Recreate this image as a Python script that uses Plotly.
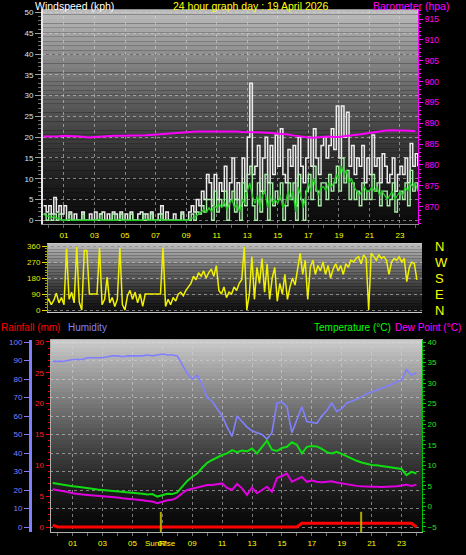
import plotly.graph_objects as go

# ---------------- sampling times (hours of the day) ----------------
t10 = [round(-1/3 + i/6, 4) for i in range(148)]   # 10-minute samples
t20 = [round(-1/3 + i/3, 4) for i in range(74)]    # 20-minute samples

hour_vals = [1, 3, 5, 7, 9, 11, 13, 15, 17, 19, 21, 23]
hour_text = ["01", "03", "05", "07", "09", "11", "13", "15", "17", "19", "21", "23"]

# ---------------- wind (kph), 10-minute ----------------
gust = [3.5, 2,
        3.5, 1.5, 5.5, 2, 3.5, 1.5,
        3.5, 0, 2, 0, 1.5, 0,
        0, 2, 0, 0, 1.5, 0,
        2, 0, 1.5, 2, 0, 1.5,
        0, 2, 1.5, 0, 2, 0,
        1.5, 0, 2, 0, 0, 1.5,
        2, 0, 1.5, 0, 2, 0,
        0, 1.5, 3.5, 0, 2, 0,
        0, 1.5, 0, 0, 2, 0,
        0, 2, 3.5, 2, 5, 3.5,
        7, 5, 11, 9, 3.5, 11,
        5, 9, 7, 13, 3.5, 9,
        15, 5, 9, 3.5, 15, 7,
        20, 33, 11, 13, 18, 7,
        15, 20, 9, 18, 11, 20.5,
        13, 22, 11, 9, 17, 13,
        18, 3.5, 20, 13, 9, 15,
        20, 13, 22, 15, 11, 18,
        20, 15, 18, 22, 17, 27.5,
        15, 27.5, 20, 26, 13, 18,
        11, 15, 13, 18, 9, 15,
        11, 20.5, 13, 15, 9, 16,
        13, 9, 11, 15, 7, 11,
        13, 11, 15, 9, 18.5, 13,
        16, 13]

avg_speed = [1.5, 0,
             1.5, 0, 1.5, 0, 1.5, 0,
             0, 0, 1.5, 0, 0, 0,
             0, 1.5, 0, 0, 0, 0,
             0, 0, 1.5, 0, 0, 0,
             0, 1.5, 0, 0, 1.5, 0,
             0, 0, 1.5, 0, 0, 0,
             0, 1.5, 0, 0, 1.5, 0,
             0, 0, 1.5, 0, 0, 0,
             0, 0, 0, 0, 1.5, 0,
             0, 0, 1.5, 0, 2, 1.5,
             3.5, 2, 5, 5, 0, 7,
             2, 5, 3.5, 7, 0, 5,
             7, 2, 5, 0, 9, 3.5,
             11, 13, 3.5, 0, 9, 2,
             7, 11, 0, 9, 3.5, 7,
             5, 9, 0, 3.5, 9, 5,
             9, 0, 11, 5, 0, 7,
             11, 5, 13, 7, 3.5, 9,
             9, 5, 11, 7, 9, 13,
             7, 15, 9, 12, 5, 9,
             5, 7, 3.5, 9, 5, 7,
             5, 11, 7, 9, 3.5, 7,
             7, 3.5, 5, 9, 2, 5,
             7, 5, 9, 3.5, 12, 7,
             9, 7]

avg_10min = [1.5, 1,
             1, 0.5, 1, 0.5, 0.5, 0,
             0, 0, 0.3, 0, 0, 0,
             0, 0, 0, 0, 0, 0,
             0, 0, 0.3, 0, 0, 0,
             0, 0, 0, 0, 0.3, 0,
             0, 0, 0, 0, 0, 0,
             0, 0, 0.3, 0, 0, 0,
             0, 0, 0.3, 0, 0, 0,
             0, 0, 0, 0, 0, 0,
             0, 0, 0.5, 0.5, 1, 1.5,
             2, 2.5, 2, 3, 2, 3.5,
             3, 4, 3, 4.5, 2.5, 4,
             5, 3, 4, 2, 5, 4,
             7, 9, 6, 4, 6, 3,
             6, 7, 3, 6, 4, 5,
             4, 6, 3, 4, 7, 5,
             7, 2, 8, 6, 3, 6,
             9, 7, 10, 8, 6, 8,
             8, 7, 9, 8, 9, 11,
             10, 13, 11, 12, 9, 10,
             8, 7, 6, 7, 8, 7,
             7, 8, 7, 8, 6, 7,
             6, 5, 6, 7, 5, 6,
             7, 6, 8, 7, 9, 8,
             9, 7]

# ---------------- wind direction (deg), 10-minute ----------------
wind_dir = [105, 40,
            60, 30, 55, 95, 40, 70,
            30, 345, 60, 100, 40, 355,
            45, 0, 335, 335, 90, 90,
            90, 90, 350, 30, 60, 185,
            40, 70, 20, 60, 350, 30,
            0, 80, 110, 60, 100, 40,
            90, 20, 90, 90, 90, 90,
            90, 90, 90, 350, 20, 60,
            30, 70, 50, 90, 100, 80,
            110, 130, 150, 190, 170, 210,
            190, 220, 180, 210, 230, 190,
            250, 110, 90, 130, 70, 100,
            90, 130, 110, 150, 170, 355,
            0, 90, 300, 60, 240, 150,
            290, 100, 260, 60, 180, 240,
            50, 150, 90, 200, 60, 130,
            180, 140, 230, 320, 200, 280,
            60, 240, 280, 200, 250, 220,
            270, 200, 250, 180, 230, 260,
            220, 250, 200, 260, 240, 280,
            270, 290, 300, 260, 310, 290,
            0, 320, 300, 280, 310, 290,
            300, 280, 200, 270, 290, 280,
            300, 270, 290, 160, 240, 270,
            260, 170]

# ---------------- 20-minute series ----------------
barometer = [886.8,
             886.8, 886.9, 886.9, 887.0, 887.0, 886.9, 886.8, 886.7, 886.6,
             886.7, 886.8, 886.9, 886.9, 887.0, 887.0, 887.0, 887.0, 887.0,
             887.1, 887.1, 887.2, 887.3, 887.4, 887.5, 887.6, 887.7, 887.7,
             887.8, 887.9, 888.0, 888.0, 888.0, 888.1, 888.0, 888.1, 888.0,
             888.0, 888.0, 887.9, 887.9, 887.8, 887.9, 887.8, 887.7, 887.6,
             887.5, 887.5, 887.3, 887.1, 886.9, 886.8, 886.6, 886.5, 886.6,
             886.7, 886.8, 886.7, 886.7, 886.9, 887.1, 887.2, 887.3, 887.5,
             887.7, 887.8, 888.0, 888.2, 888.3, 888.3, 888.3, 888.2, 888.2,
             888.1]

humidity = [89.5,
            89.5, 89.5, 90, 90.5, 90.5, 90.5, 91.5, 91.5, 91.5,
            91.5, 92, 92.5, 92.5, 92, 92.5, 92.5, 92.5, 92.5,
            93, 92.5, 93, 93.5, 93, 93, 92.5, 88, 83,
            80, 82, 77, 70, 68, 64, 60, 54, 49,
            60, 57, 54, 52, 51, 50, 47.5, 51, 67,
            67.5, 65, 51, 58, 65, 57, 56.5, 56, 60,
            63, 67, 62.5, 64, 67, 68, 69, 70.5, 72,
            73, 74, 75, 76, 77, 78.5, 79.5, 85, 82,
            83.5]

temperature = [5.7,
               5.5, 5.2, 5.0, 4.9, 4.8, 4.6, 4.4, 4.2, 4.1,
               4.0, 3.9, 3.8, 3.6, 3.5, 3.4, 3.3, 3.2, 3.1,
               2.9, 3.0, 2.4, 2.8, 3.1, 3.0, 3.4, 4.8, 6.2,
               7.2, 8.0, 9.4, 10.6, 11.3, 12.0, 12.5, 12.9, 13.7,
               13.2, 13.6, 13.4, 14.1, 12.9, 14.4, 16.0, 13.8, 13.5,
               14.2, 14.5, 15.6, 15.0, 12.9, 14.5, 14.7, 14.6, 14.0,
               13.2, 12.9, 13.3, 12.8, 12.2, 11.6, 11.1, 10.7, 10.4,
               10.1, 10.0, 9.8, 9.7, 9.5, 9.3, 9.1, 7.6, 8.4,
               8.0]

dew_point = [4.2,
             4.0, 3.7, 3.5, 3.2, 3.0, 2.9, 2.8, 2.7, 2.6,
             2.5, 2.4, 2.4, 2.2, 2.0, 1.9, 1.7, 1.6, 1.5,
             1.3, 1.2, 0.8, 1.2, 1.5, 1.6, 2.2, 3.2, 4.0,
             4.3, 4.6, 4.8, 5.2, 5.2, 5.4, 5.6, 4.5, 4.0,
             5.5, 4.4, 2.8, 4.6, 3.2, 4.0, 4.8, 3.6, 6.9,
             7.4, 8.0, 6.0, 6.6, 7.2, 6.0, 6.3, 6.0, 5.9,
             6.0, 6.1, 5.8, 5.6, 5.3, 5.1, 5.0, 4.9, 4.8,
             4.8, 4.8, 4.7, 4.8, 4.8, 4.9, 5.1, 5.3, 5.0,
             5.3]

rainfall = [0.3, 0, 0, 0, 0, 0, 0, 0, 0, 0,
            0, 0, 0, 0, 0, 0, 0, 0, 0, 0,
            0, 0, 0, 0, 0, 0, 0, 0, 0, 0,
            0, 0, 0, 0, 0, 0, 0, 0, 0, 0,
            0, 0, 0, 0, 0, 0, 0, 0, 0, 0,
            0.6, 0.6, 0.6, 0.6, 0.6, 0.6, 0.6, 0.6, 0.6, 0.6,
            0.6, 0.6, 0.6, 0.6, 0.6, 0.6, 0.6, 0.6, 0.6, 0.6,
            0.6, 0.6, 0.6, 0]

sun_events = [6.9, 20.3]   # sunrise, sunset (hours)

W, H = 466, 555
FONT = "Liberation Sans"
GRID = "rgba(215,215,215,0.55)"


def px_x(p):
    return p / W


def px_y(p):
    return 1 - p / H


TOP_DOM = [px_y(224), px_y(10)]
MID_DOM = [px_y(312), px_y(244)]
BOT_DOM = [px_y(532), px_y(340)]

fig = go.Figure()

# ---- top panel ----
fig.add_trace(go.Scatter(x=t10, y=gust, mode="lines", line=dict(color="#ececec", width=1.5, shape="hv"),
                         xaxis="x", yaxis="y", hoverinfo="skip"))
fig.add_trace(go.Scatter(x=t10, y=avg_speed, mode="lines", line=dict(color="#aaeeaa", width=1.4, shape="hv"),
                         xaxis="x", yaxis="y", hoverinfo="skip"))
fig.add_trace(go.Scatter(x=t10, y=avg_10min, mode="lines", line=dict(color="#22cc22", width=1.3),
                         xaxis="x", yaxis="y", hoverinfo="skip"))
fig.add_trace(go.Scatter(x=t20, y=barometer, mode="lines", line=dict(color="#ff00ff", width=2),
                         xaxis="x", yaxis="y2", hoverinfo="skip"))
# ---- middle panel ----
fig.add_trace(go.Scatter(x=t10, y=wind_dir, mode="lines", line=dict(color="#f0f000", width=1.5),
                         xaxis="x2", yaxis="y3", hoverinfo="skip"))
# compass-letter axis (carries no marks)
fig.add_trace(go.Scatter(x=[], y=[], mode="lines", xaxis="x2", yaxis="y4", hoverinfo="skip"))
# ---- bottom panel ----
fig.add_trace(go.Scatter(x=t20, y=humidity, mode="lines", line=dict(color="#8080ff", width=1.6),
                         xaxis="x3", yaxis="y5", hoverinfo="skip"))
fig.add_trace(go.Scatter(x=t20, y=rainfall, mode="lines", line=dict(color="#ff0000", width=3),
                         xaxis="x3", yaxis="y6", hoverinfo="skip"))
fig.add_trace(go.Scatter(x=t20, y=temperature, mode="lines", line=dict(color="#10dd10", width=2),
                         xaxis="x3", yaxis="y7", hoverinfo="skip"))
fig.add_trace(go.Scatter(x=t20, y=dew_point, mode="lines", line=dict(color="#e000e0", width=2),
                         xaxis="x3", yaxis="y7", hoverinfo="skip"))

# ---- gradient backgrounds ----
shapes = []


def gradient(xa, ya, top, bottom, n=48, gamma=1.4):
    for k in range(n):
        fm = (k + 0.5) / n
        v = int(round(bottom + (top - bottom) * (1 - fm) ** gamma))
        shapes.append(dict(type="rect", xref=f"{xa} domain", yref=f"{ya} domain",
                           x0=0, x1=1, y0=1 - (k + 1) / n, y1=1 - k / n,
                           fillcolor=f"rgb({v},{v},{v})", line=dict(width=0), layer="below"))


gradient("x", "y", 190, 12)
gradient("x2", "y3", 190, 18, n=24)
gradient("x3", "y5", 205, 6)

for s in sun_events:
    shapes.append(dict(type="line", xref="x3", yref="y5 domain", x0=s, x1=s, y0=0, y1=0.105,
                       line=dict(color="#b0a800", width=2)))

tick_font = dict(family=FONT, size=8)

layout = dict(
    width=W, height=H, margin=dict(l=0, r=0, t=0, b=0, autoexpand=False),
    paper_bgcolor="black", plot_bgcolor="rgba(0,0,0,0)", showlegend=False,
    font=dict(family=FONT),
    xaxis=dict(domain=[px_x(43), px_x(418)], range=[-0.373, 24.18], anchor="y",
               tickvals=hour_vals, ticktext=hour_text, tickfont=dict(tick_font, color="#ffff00"),
               ticks="outside", ticklen=3, tickcolor="#606060",
               minor=dict(dtick=1, ticks="outside", ticklen=3, tickcolor="#606060"),
               showgrid=True, gridcolor=GRID, griddash="dot",
               showline=True, linecolor="#909090", mirror=True, zeroline=False, ticklabelstandoff=0),
    yaxis=dict(domain=TOP_DOM, range=[-0.9, 50.6], anchor="x",
               tickvals=list(range(0, 51, 5)), tickfont=dict(tick_font, color="#d8e4ff"),
               ticks="outside", ticklen=6, tickcolor="#a0a0a0",
               minor=dict(dtick=1, ticks="outside", ticklen=3, tickcolor="#707070"),
               showline=True, linecolor="#e8e8e8", linewidth=2,
               showgrid=True, gridcolor=GRID, griddash="dot", zeroline=False),
    yaxis2=dict(domain=TOP_DOM, overlaying="y", side="right", anchor="x", range=[865.85, 917.16],
                tickvals=list(range(870, 916, 5)), tickfont=dict(family=FONT, size=8.5, color="#ff00ff"),
                ticks="outside", ticklen=4, tickcolor="#ff00ff",
                minor=dict(dtick=1, ticks="outside", ticklen=2, tickcolor="#ff00ff"),
                showline=True, linecolor="#ff00ff", linewidth=1, showgrid=False, zeroline=False),
    xaxis2=dict(domain=[px_x(48), px_x(422)], range=[-0.05, 24.5], anchor="y3",
                showticklabels=False, ticks="", showgrid=False,
                showline=True, linecolor="#c8c8c8", mirror=True, zeroline=False),
    yaxis3=dict(domain=MID_DOM, range=[-11.25, 371.25], anchor="x2",
                tickvals=[0, 90, 180, 270, 360], tickfont=dict(tick_font, color="#e8e800"),
                ticks="outside", ticklen=5, tickcolor="#e0e000",
                minor=dict(dtick=15, ticks="outside", ticklen=2, tickcolor="#a0a000"),
                showline=True, linecolor="#909090",
                showgrid=True, gridcolor=GRID, griddash="dot", zeroline=False),
    yaxis4=dict(domain=MID_DOM, overlaying="y3", side="right", anchor="x2", range=[-11.25, 371.25],
                tickvals=[0, 90, 180, 270, 360], ticktext=["N", "E", "S", "W", "N"],
                tickfont=dict(family=FONT, size=13, color="#ffff00"), ticks="",
                showline=False, showgrid=False, zeroline=False, ticklabelstandoff=12),
    xaxis3=dict(domain=[px_x(50), px_x(422)], range=[-0.515, 24.37], anchor="y5",
                tickvals=hour_vals, ticktext=hour_text, tickfont=dict(tick_font, color="#ffff00"),
                ticks="outside", ticklen=3, tickcolor="#707070",
                minor=dict(dtick=1, ticks="outside", ticklen=3, tickcolor="#707070"),
                showgrid=True, gridcolor=GRID, griddash="dot",
                showline=True, linecolor="#b0b0b0", mirror=True, zeroline=False, ticklabelstandoff=0),
    yaxis5=dict(domain=BOT_DOM, anchor="free", position=px_x(30), side="left",
                range=[-2.7, 101.08], tickvals=list(range(0, 101, 10)),
                tickfont=dict(tick_font, color="#8080ff"),
                ticks="outside", ticklen=5, tickcolor="#8080ff",
                showline=True, linecolor="#8080ff", linewidth=3,
                showgrid=True, gridcolor=GRID, griddash="dot", zeroline=False),
    yaxis6=dict(domain=BOT_DOM, overlaying="y5", anchor="free", position=px_x(49.5), side="left",
                range=[-0.81, 30.32], tickvals=list(range(0, 31, 5)),
                tickfont=dict(tick_font, color="#ff2020"),
                ticks="outside", ticklen=4, tickcolor="#ff0000",
                minor=dict(dtick=1, ticks="outside", ticklen=2, tickcolor="#ff0000"),
                showline=True, linecolor="#b0b0b0", showgrid=False, zeroline=False),
    yaxis7=dict(domain=BOT_DOM, overlaying="y5", side="right", anchor="x3", range=[-6.22, 40.49],
                tickvals=list(range(-5, 41, 5)), tickfont=dict(tick_font, color="#20e020"),
                ticks="outside", ticklen=3, tickcolor="#00d000",
                minor=dict(dtick=1, ticks="outside", ticklen=2, tickcolor="#00c000"),
                showline=True, linecolor="#00c000", showgrid=False, zeroline=False),
    shapes=shapes,
)

ann = [
    dict(text="Windspeed (kph)", x=px_x(34), y=px_y(6), color="#ffffff", size=10.5),
    dict(text="24 hour graph day : 19 April 2026", x=px_x(172), y=px_y(6), color="#ffff00", size=10.5),
    dict(text="Barometer (hpa)", x=px_x(372), y=px_y(6), color="#ff00ff", size=10.5),
    dict(text="Rainfall (mm)", x=px_x(0), y=px_y(327), color="#ff0000", size=10),
    dict(text="Humidity", x=px_x(67), y=px_y(327), color="#8080ff", size=10),
    dict(text="Temperature (°C)", x=px_x(313), y=px_y(327), color="#00ff00", size=10),
    dict(text="Dew Point (°C)", x=px_x(394), y=px_y(327), color="#ff00ff", size=10),
]
annotations = []
for a in ann:
    annotations.append(dict(text=a["text"], x=a["x"], y=a["y"], xref="paper", yref="paper",
                            xanchor="left", yanchor="middle", showarrow=False,
                            borderpad=0, font=dict(family=FONT, size=a["size"], color=a["color"])))
annotations.append(dict(text="SunRise", x=sun_events[0], y=px_y(543), xref="x3", yref="paper",
                        xanchor="center", yanchor="middle", showarrow=False, borderpad=0,
                        font=dict(family=FONT, size=8, color="#ffff00")))
layout["annotations"] = annotations

fig.update_layout(**layout)
fig.write_html("out.html", config={"displayModeBar": False},
               post_script="document.body.style.margin='0';document.body.style.background='black';")
